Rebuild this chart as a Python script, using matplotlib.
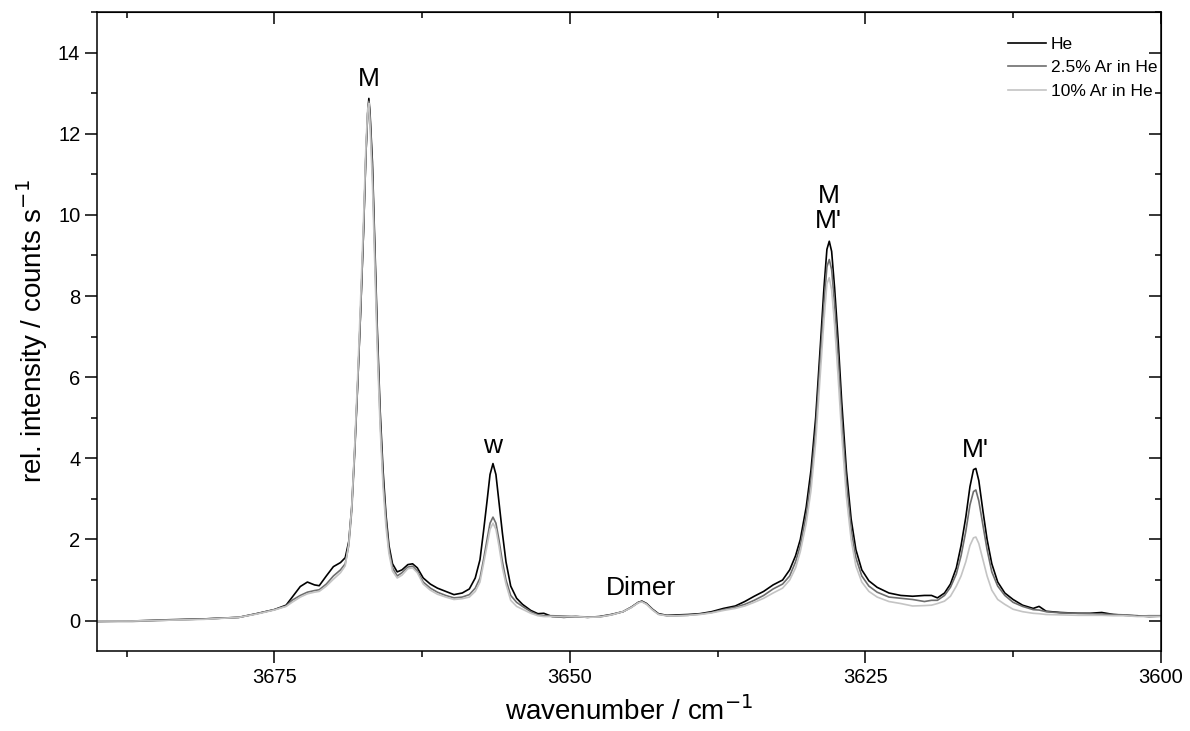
import numpy as np
import matplotlib
matplotlib.use("Agg")
import matplotlib.pyplot as plt
from matplotlib.ticker import MultipleLocator

plt.rcParams["font.family"] = ["Liberation Sans", "DejaVu Sans"]

# wavenumber grid (cm^-1)
wn = [3690.0, 3687.0, 3684.0, 3681.0, 3678.0, 3676.5, 3675.0, 3674.0, 3673.5, 3672.8,
      3672.2, 3671.6, 3671.2, 3670.6, 3670.0, 3669.4, 3669.0, 3668.7, 3668.45, 3668.2,
      3667.95, 3667.7, 3667.45, 3667.25, 3667.1, 3667.0, 3666.9, 3666.7, 3666.5, 3666.3,
      3666.05, 3665.8, 3665.55, 3665.3, 3665.0, 3664.6, 3664.2, 3663.7, 3663.3, 3662.9,
      3662.4, 3661.8, 3661.2, 3660.5, 3659.8, 3659.1, 3658.5, 3658.0, 3657.6, 3657.3,
      3657.0, 3656.75, 3656.5, 3656.25, 3656.0, 3655.7, 3655.4, 3655.0, 3654.5, 3654.0,
      3653.3, 3652.7, 3652.2, 3651.5, 3650.5, 3649.5, 3648.5, 3647.5, 3646.5, 3645.5,
      3644.8, 3644.2, 3643.9, 3643.5, 3643.0, 3642.5, 3641.8, 3641.0, 3640.0, 3639.0,
      3638.0, 3637.0, 3636.0, 3635.2, 3634.4, 3633.6, 3632.8, 3632.0, 3631.4, 3630.9,
      3630.5, 3630.0, 3629.6, 3629.2, 3628.8, 3628.5, 3628.25, 3628.05, 3627.85, 3627.6,
      3627.3, 3627.0, 3626.6, 3626.2, 3625.8, 3625.3, 3624.7, 3624.0, 3623.0, 3622.0,
      3621.0, 3620.0, 3619.4, 3618.9, 3618.3, 3617.8, 3617.3, 3616.9, 3616.5, 3616.15,
      3615.85, 3615.65, 3615.4, 3615.05, 3614.7, 3614.3, 3613.8, 3613.2, 3612.5, 3611.7,
      3610.8, 3610.3, 3609.7, 3608.5, 3607.0, 3606.0, 3605.0, 3604.0, 3603.0, 3602.0,
      3601.0, 3600.0]

he = [-0.02, -0.01, 0.02, 0.04, 0.08, 0.17, 0.27, 0.38, 0.57, 0.84,
      0.95, 0.88, 0.86, 1.10, 1.33, 1.43, 1.55, 1.95, 2.8, 4.2,
      5.8, 7.6, 9.6, 11.5, 12.5, 12.87, 12.5, 11.3, 9.3, 7.3,
      5.2, 3.7, 2.6, 1.85, 1.40, 1.20, 1.25, 1.38, 1.40, 1.30,
      1.05, 0.90, 0.80, 0.72, 0.64, 0.68, 0.78, 1.05, 1.50, 2.20,
      2.95, 3.60, 3.87, 3.60, 2.95, 2.15, 1.45, 0.85, 0.55, 0.40,
      0.25, 0.17, 0.18, 0.10, 0.08, 0.10, 0.08, 0.10, 0.15, 0.22,
      0.33, 0.45, 0.48, 0.42, 0.28, 0.17, 0.13, 0.14, 0.15, 0.17,
      0.22, 0.30, 0.36, 0.47, 0.60, 0.72, 0.88, 1.00, 1.25, 1.60,
      2.00, 2.80, 3.70, 5.00, 6.80, 8.20, 9.15, 9.35, 9.10, 8.20,
      6.90, 5.40, 3.70, 2.50, 1.75, 1.25, 0.98, 0.82, 0.68, 0.62,
      0.60, 0.62, 0.62, 0.56, 0.68, 0.90, 1.30, 1.85, 2.55, 3.30,
      3.72, 3.75, 3.45, 2.70, 2.00, 1.40, 0.95, 0.68, 0.52, 0.38,
      0.30, 0.35, 0.23, 0.20, 0.18, 0.18, 0.20, 0.15, 0.13, 0.12,
      0.10, 0.11]

ar25 = [-0.02, -0.02, 0.01, 0.04, 0.08, 0.17, 0.27, 0.36, 0.50, 0.62,
        0.70, 0.74, 0.76, 0.90, 1.10, 1.25, 1.40, 1.85, 2.7, 4.1,
        5.8, 7.6, 9.6, 11.5, 12.5, 12.8, 12.4, 11.1, 9.1, 7.1,
        5.0, 3.5, 2.5, 1.75, 1.30, 1.10, 1.18, 1.32, 1.34, 1.22,
        0.95, 0.80, 0.70, 0.62, 0.56, 0.58, 0.64, 0.80, 1.05, 1.50,
        2.00, 2.40, 2.55, 2.40, 2.00, 1.45, 1.00, 0.62, 0.45, 0.35,
        0.22, 0.14, 0.12, 0.12, 0.11, 0.10, 0.09, 0.09, 0.14, 0.22,
        0.33, 0.45, 0.47, 0.41, 0.27, 0.16, 0.12, 0.12, 0.13, 0.16,
        0.20, 0.27, 0.33, 0.40, 0.50, 0.62, 0.78, 0.90, 1.10, 1.45,
        1.85, 2.60, 3.45, 4.70, 6.45, 7.80, 8.72, 8.90, 8.65, 7.80,
        6.50, 5.00, 3.40, 2.25, 1.55, 1.10, 0.85, 0.70, 0.58, 0.55,
        0.52, 0.47, 0.50, 0.50, 0.62, 0.82, 1.15, 1.60, 2.20, 2.85,
        3.18, 3.22, 2.95, 2.35, 1.75, 1.20, 0.85, 0.62, 0.45, 0.35,
        0.27, 0.26, 0.22, 0.19, 0.18, 0.17, 0.16, 0.15, 0.14, 0.11,
        0.12, 0.12]

ar10 = [-0.01, -0.01, 0.01, 0.03, 0.08, 0.16, 0.26, 0.35, 0.45, 0.58,
        0.66, 0.70, 0.72, 0.85, 1.02, 1.18, 1.35, 1.90, 2.8, 4.3,
        6.0, 7.9, 9.9, 11.7, 12.6, 12.75, 12.2, 10.8, 8.8, 6.8,
        4.8, 3.3, 2.3, 1.65, 1.22, 1.05, 1.12, 1.28, 1.30, 1.18,
        0.90, 0.75, 0.65, 0.58, 0.52, 0.54, 0.58, 0.72, 0.95, 1.40,
        1.85, 2.25, 2.40, 2.25, 1.85, 1.30, 0.90, 0.50, 0.35, 0.28,
        0.18, 0.12, 0.10, 0.10, 0.09, 0.10, 0.08, 0.09, 0.14, 0.22,
        0.32, 0.44, 0.46, 0.40, 0.26, 0.15, 0.12, 0.12, 0.13, 0.15,
        0.19, 0.25, 0.30, 0.36, 0.45, 0.55, 0.68, 0.80, 1.00, 1.30,
        1.70, 2.40, 3.20, 4.40, 6.10, 7.40, 8.30, 8.45, 8.15, 7.30,
        6.00, 4.60, 3.05, 2.00, 1.35, 0.95, 0.72, 0.58, 0.47, 0.42,
        0.36, 0.37, 0.38, 0.42, 0.48, 0.60, 0.85, 1.10, 1.45, 1.85,
        2.04, 2.06, 1.90, 1.50, 1.10, 0.75, 0.52, 0.40, 0.28, 0.22,
        0.18, 0.17, 0.15, 0.14, 0.13, 0.13, 0.13, 0.12, 0.12, 0.10,
        0.10, 0.10]

series = [("He", he, "black"),
          ("2.5% Ar in He", ar25, "#6e6e6e"),
          ("10% Ar in He", ar10, "#c4c4c4")]

# peak labels: (text, wavenumber, intensity)
labels = [("M", 3667.0, 13.35),
          ("w", 3656.5, 4.3),
          ("Dimer", 3644.0, 0.8),
          ("M\nM'", 3628.1, 10.15),
          ("M'", 3615.7, 4.2)]

fig = plt.figure(figsize=(11.9, 7.31), dpi=100)
ax = fig.add_axes([0.0815, 0.1094, 0.894, 0.8742])

for name, y, col in series:
    ax.plot(wn, y, color=col, lw=1.2, label=name)

for txt, x, y in labels:
    ax.text(x, y, txt, ha="center", va="center", fontsize=19, linespacing=1.05)

ax.set_xlim(3690, 3600)
ax.set_ylim(-0.75, 15)
ax.xaxis.set_major_locator(MultipleLocator(25))
ax.xaxis.set_minor_locator(MultipleLocator(12.5))
ax.yaxis.set_major_locator(MultipleLocator(2))
ax.yaxis.set_minor_locator(MultipleLocator(1))
ax.tick_params(which="both", direction="out", width=1.1, labelsize=14.5)
ax.tick_params(which="major", length=8.5)
ax.tick_params(which="minor", length=4.5)
for s in ax.spines.values():
    s.set_linewidth(1.1)

# mirrored axes with inward ticks
top = ax.secondary_xaxis("top")
top.xaxis.set_major_locator(MultipleLocator(25))
top.xaxis.set_minor_locator(MultipleLocator(12.5))
top.tick_params(which="both", direction="in", width=1.1, labeltop=False)
top.tick_params(which="major", length=8.5)
top.tick_params(which="minor", length=4.5)
right = ax.secondary_yaxis("right")
right.yaxis.set_major_locator(MultipleLocator(2))
right.yaxis.set_minor_locator(MultipleLocator(1))
right.tick_params(which="both", direction="in", width=1.1, labelright=False)
right.tick_params(which="major", length=8.5)
right.tick_params(which="minor", length=4.5)

ax.set_xlabel("wavenumber / cm$^{-1}$", fontsize=20, labelpad=7)
ax.set_ylabel("rel. intensity / counts s$^{-1}$", fontsize=20, labelpad=6)

ax.legend(loc="upper left", bbox_to_anchor=(0.85, 0.972), frameon=False,
          borderaxespad=0, fontsize=12.5, handlelength=2.2, handletextpad=0.25,
          labelspacing=0.48)

fig.savefig("out.png", dpi=100)
